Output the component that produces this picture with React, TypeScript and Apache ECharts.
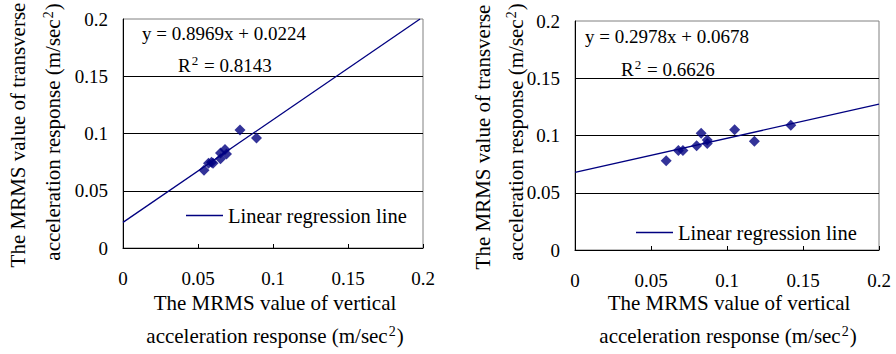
import React, { useEffect, useRef } from "react";
import * as echarts from "echarts";

// ---- data ----
const LEFT_X = [0.054, 0.057, 0.059, 0.06, 0.065, 0.065, 0.068, 0.069, 0.078, 0.089];
const LEFT_Y = [0.068, 0.074, 0.075, 0.074, 0.078, 0.083, 0.086, 0.082, 0.103, 0.096];
const RIGHT_X = [0.06, 0.068, 0.071, 0.08, 0.083, 0.087, 0.087, 0.105, 0.118, 0.142];
const RIGHT_Y = [0.078, 0.087, 0.087, 0.091, 0.102, 0.096, 0.093, 0.105, 0.095, 0.109];
const LEFT_FIT = [0.8969, 0.0224, 0.8143]; // slope, intercept, R^2
const RIGHT_FIT = [0.2978, 0.0678, 0.6626];
const AXIS_TICKS = [0, 0.05, 0.1, 0.15, 0.2];
const LEGEND_NAME = "Linear regression line";
const X_TITLE = ["The MRMS value of vertical", "acceleration response (m/sec"];
const Y_TITLE = ["The MRMS value of transverse", "acceleration response (m/sec"];

const FONT = "'Liberation Serif', 'Times New Roman', serif";
const NAVY = "#000080";
const FS = 19;
const TFS = 21;

function fitLine(fit: number[]) {
  const [a, b] = fit;
  const lo = AXIS_TICKS[0];
  const hi = AXIS_TICKS[AXIS_TICKS.length - 1];
  const xEnd = Math.min(hi, (hi - b) / a);
  return [
    [lo, a * lo + b],
    [xEnd, a * xEnd + b],
  ];
}

const rich = {
  a: { fontFamily: FONT, fontSize: FS, color: "#000", lineHeight: 22 },
  s: { fontFamily: FONT, fontSize: 13, color: "#000", verticalAlign: "top", lineHeight: 22, padding: [0, 1, 8, 1] },
  t: { fontFamily: FONT, fontSize: TFS, color: "#000", lineHeight: 24 },
  u: { fontFamily: FONT, fontSize: 14, color: "#000", verticalAlign: "top", lineHeight: 24, padding: [0, 1, 10, 1] },
};

function supText(base: string, after: string) {
  return `{t|${base}}{u|2}{t|${after}}`;
}

export default function App() {
  const ref = useRef<HTMLDivElement>(null);
  useEffect(() => {
    if (!ref.current) return;
    const chart = echarts.init(ref.current, undefined, { renderer: "svg" });
    const min = AXIS_TICKS[0];
    const max = AXIS_TICKS[AXIS_TICKS.length - 1];
    const interval = AXIS_TICKS[1] - AXIS_TICKS[0];
    const axisLabel = { fontFamily: FONT, fontSize: FS, color: "#000" };
    const mkX = (gi: number) => ({
      type: "value",
      gridIndex: gi,
      min,
      max,
      interval,
      axisLine: { show: true, lineStyle: { color: "#000", width: 1 } },
      axisTick: { show: true, inside: true, length: 4, lineStyle: { color: "#000" } },
      axisLabel: { ...axisLabel, margin: 21 },
      splitLine: { show: false },
    });
    const mkY = (gi: number) => ({
      type: "value",
      gridIndex: gi,
      min,
      max,
      interval,
      axisLine: { show: true, lineStyle: { color: "#000", width: 1 } },
      axisTick: { show: false },
      axisLabel: { ...axisLabel, margin: 15 },
      splitLine: { show: true, showMinLine: false, showMaxLine: false, lineStyle: { color: "#000", width: 1 } },
    });
    const scatter = (xs: number[], ys: number[], gi: number) => ({
      type: "scatter",
      xAxisIndex: gi,
      yAxisIndex: gi,
      data: xs.map((x, i) => [x, ys[i]]),
      symbol: "diamond",
      symbolSize: 11,
      itemStyle: { color: NAVY },
      z: 3,
    });
    const line = (fit: number[], gi: number) => ({
      type: "line",
      name: LEGEND_NAME,
      xAxisIndex: gi,
      yAxisIndex: gi,
      data: fitLine(fit),
      symbol: "none",
      lineStyle: { color: NAVY, width: 1.3 },
      itemStyle: { color: NAVY },
      z: 2,
    });
    const eq = (fit: number[]) =>
      `y = ${fit[0].toFixed(4)}x + ${fit[1].toFixed(4)}`;
    const txt = (x: number, y: number, text: string) => ({
      type: "text",
      x,
      y,
      style: { text, fontFamily: FONT, fontSize: FS, fill: "#000", verticalAlign: "middle", align: "left" },
    });
    const r2 = (x: number, y: number, v: number) => ({
      type: "text",
      x,
      y,
      style: {
        text: `{a|R}{s|2}{a| = ${v.toFixed(4)}}`,
        rich,
        verticalAlign: "middle",
        align: "left",
      },
    });
    const centered = (x: number, y: number, text: string, rot = 0) => ({
      type: "text",
      x,
      y,
      rotation: rot,
      style: { text, rich, align: "center", verticalAlign: "middle" },
    });
    const legend = (left: number, top: number) => ({
      left,
      top,
      padding: 0,
      icon: "rect",
      itemWidth: 37,
      itemHeight: 1.4,
      itemGap: 5,
      data: [LEGEND_NAME],
      selectedMode: false,
      itemStyle: { color: NAVY, borderWidth: 0 },
      textStyle: { fontFamily: FONT, fontSize: 20.5, color: "#000" },
    });

    chart.setOption({
      animation: false,
      backgroundColor: "#fff",
      grid: [
        { left: 123, top: 19, width: 300, height: 229, show: true, borderColor: "#808080", borderWidth: 1, backgroundColor: "transparent" },
        { left: 575, top: 21, width: 304, height: 229, show: true, borderColor: "#808080", borderWidth: 1, backgroundColor: "transparent" },
      ],
      xAxis: [mkX(0), mkX(1)],
      yAxis: [mkY(0), mkY(1)],
      legend: [legend(186, 205), legend(636, 222)],
      graphic: [
        txt(142, 33, eq(LEFT_FIT)),
        r2(178, 65, LEFT_FIT[2]),
        txt(585, 36, eq(RIGHT_FIT)),
        r2(621, 69, RIGHT_FIT[2]),
        centered(275, 303, `{t|${X_TITLE[0]}}`),
        centered(275, 336, supText(X_TITLE[1], ")")),
        centered(729, 303, `{t|${X_TITLE[0]}}`),
        centered(728, 336, supText(X_TITLE[1], ")")),
        centered(18, 135, `{t|${Y_TITLE[0]}}`, Math.PI / 2),
        centered(53, 132, supText(Y_TITLE[1], ")"), Math.PI / 2),
        centered(483, 137, `{t|${Y_TITLE[0]}}`, Math.PI / 2),
        centered(516, 132, supText(Y_TITLE[1], ")"), Math.PI / 2),
      ],
      series: [
        line(LEFT_FIT, 0),
        scatter(LEFT_X, LEFT_Y, 0),
        line(RIGHT_FIT, 1),
        scatter(RIGHT_X, RIGHT_Y, 1),
      ],
    });
    return () => chart.dispose();
  }, []);
  return (
    <div
      ref={ref}
      style={{ position: "fixed", left: 0, top: 0, width: 896, height: 354, background: "#fff" }}
    />
  );
}
